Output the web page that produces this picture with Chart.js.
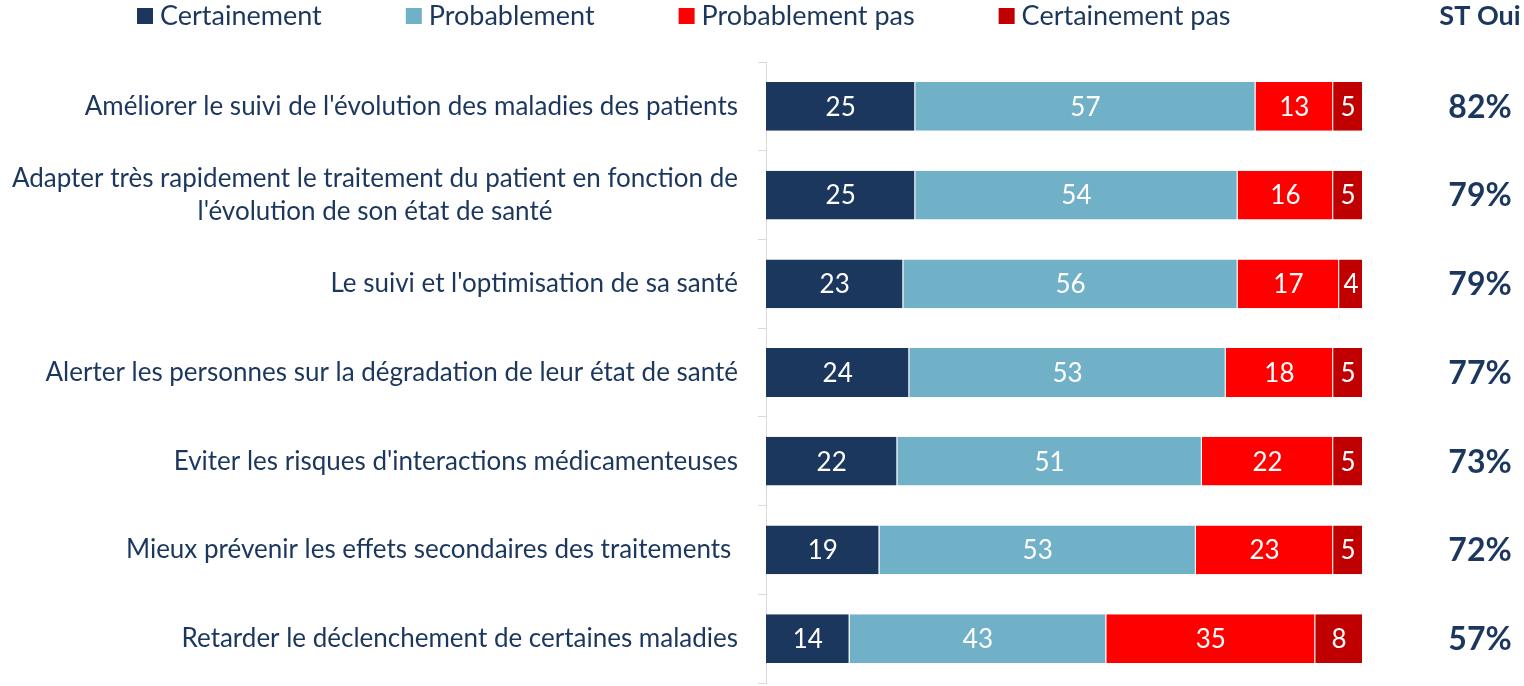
<!DOCTYPE html>
<html>
<head>
<meta charset="utf-8">
<script src="https://cdn.jsdelivr.net/npm/chart.js@4"></script>
<style>
  html, body { margin: 0; padding: 0; background: #fff; }
  #wrap { width: 1524px; height: 686px; position: relative; }
</style>
</head>
<body>
<div id="wrap"><canvas id="chart" width="1524" height="686"></canvas></div>
<script>
// données
const categories = [
    "Améliorer le suivi de l'évolution des maladies des patients",
    ["Adapter très rapidement le traitement du patient en fonction de", "l'évolution de son état de santé"],
    "Le suivi et l'optimisation de sa santé",
    "Alerter les personnes sur la dégradation de leur état de santé",
    "Eviter les risques d'interactions médicamenteuses",
    "Mieux prévenir les effets secondaires des traitements ",
    "Retarder le déclenchement de certaines maladies"
];
const certainement = [25, 25, 23, 24, 22, 19, 14];
const probablement = [57, 54, 56, 53, 51, 53, 43];
const probablementPas = [13, 16, 17, 18, 22, 23, 35];
const certainementPas = [5, 5, 4, 5, 5, 5, 8];
const stOui = ["82%", "79%", "79%", "77%", "73%", "72%", "57%"];
const stHeader = "ST Oui";

const NAVY = '#1C375E';
const FONT = 'Lato';

// légende en haut, dessinée à la main
const legendPlugin = {
    id: 'topLegend',
    afterDraw(chart) {
        const ctx = chart.ctx;
        ctx.save();
        ctx.font = '27px ' + FONT;
        ctx.textBaseline = 'middle';
        let x = 137;
        const y = 16;
        chart.data.datasets.forEach(ds => {
            ctx.fillStyle = ds.backgroundColor;
            ctx.fillRect(x, y - 8, 16, 16);
            ctx.fillStyle = NAVY;
            ctx.textAlign = 'left';
            ctx.fillText(ds.label, x + 23, y);
            x += 23 + ctx.measureText(ds.label).width + 84;
        });
        // titre colonne ST Oui
        ctx.font = 'bold 27px ' + FONT;
        ctx.textAlign = 'center';
        ctx.fillText(stHeader, 1480, y);
        ctx.restore();
    }
};

// libellés à gauche + valeurs dans les barres + colonne ST Oui
const labelsPlugin = {
    id: 'barLabels',
    afterDatasetsDraw(chart) {
        const ctx = chart.ctx;
        const yScale = chart.scales.y;
        ctx.save();
        ctx.textBaseline = 'middle';

        // catégories
        ctx.font = '26px ' + FONT;
        ctx.fillStyle = NAVY;
        categories.forEach((cat, i) => {
            const yc = yScale.getPixelForValue(i);
            const lines = Array.isArray(cat) ? cat : [cat];
            const maxW = Math.max(...lines.map(l => ctx.measureText(l).width));
            const lh = 33;
            const y0 = yc - (lines.length - 1) * lh / 2;
            lines.forEach((l, k) => {
                ctx.textAlign = 'center';
                ctx.fillText(l, 738 - maxW / 2, y0 + k * lh);
            });
        });

        // valeurs
        ctx.font = '26px ' + FONT;
        ctx.fillStyle = '#fff';
        ctx.textAlign = 'center';
        chart.data.datasets.forEach((ds, di) => {
            chart.getDatasetMeta(di).data.forEach((bar, i) => {
                ctx.fillText(ds.data[i], (bar.x + bar.base) / 2, bar.y + 1);
            });
        });

        // ST Oui
        ctx.font = 'bold 32px ' + FONT;
        ctx.fillStyle = NAVY;
        stOui.forEach((v, i) => {
            ctx.fillText(v, 1480, yScale.getPixelForValue(i) + 1);
        });
        ctx.restore();
    }
};

const ctx = document.getElementById('chart').getContext('2d');
new Chart(ctx, {
    type: 'bar',
    data: {
        labels: categories.map((c, i) => i),
        datasets: [
            { label: 'Certainement', data: certainement, backgroundColor: NAVY },
            { label: 'Probablement', data: probablement, backgroundColor: '#71B1C8' },
            { label: 'Probablement pas', data: probablementPas, backgroundColor: '#FF0000' },
            { label: 'Certainement pas', data: certainementPas, backgroundColor: '#C00000' }
        ]
    },
    options: {
        indexAxis: 'y',
        responsive: false,
        animation: false,
        layout: { padding: { left: 758, right: 161, top: 62, bottom: 3 } },
        datasets: {
            bar: {
                categoryPercentage: 1,
                barPercentage: 0.55,
                borderWidth: { right: 1 },
                borderColor: 'rgba(255,255,255,0.35)'
            }
        },
        scales: {
            x: { stacked: true, min: 0, max: 100, display: false },
            y: {
                stacked: true,
                ticks: { display: false },
                grid: { drawOnChartArea: false, tickLength: 8, color: '#D9D9D9', offset: true },
                border: { color: '#D9D9D9' }
            }
        },
        plugins: { legend: { display: false }, tooltip: { enabled: false } }
    },
    plugins: [legendPlugin, labelsPlugin]
});
</script>
</body>
</html>
